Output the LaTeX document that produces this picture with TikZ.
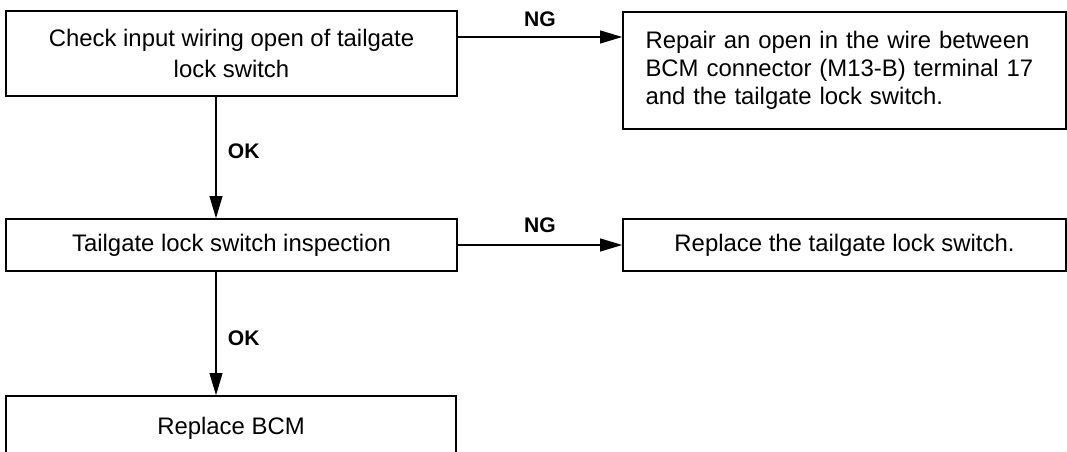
\documentclass[tikz,border=0pt]{standalone}
\usepackage{fontspec}
\setmainfont{Liberation Sans}
\usetikzlibrary{arrows.meta,positioning}

\begin{document}
\begin{tikzpicture}[
    stepbox/.style={rectangle, draw=black, line width=1.1pt, fill=white, inner sep=0pt, align=center, font=\fontsize{17}{20}\selectfont},
    leftbox/.style={stepbox, align=left, text width=9.95cm},
    result/.style={inner sep=0pt, font=\fontsize{15}{17}\selectfont\bfseries},
    arrow/.style={line width=1.1pt, -{Triangle[length=0.55cm,width=0.32cm]}}
]
\useasboundingbox (0,0) rectangle (26.675,-11.3);

% Inspection steps
\node[stepbox, minimum width=11.275cm, minimum height=2.125cm] (check) at (5.7875,-1.3375) {Check input wiring open of tailgate\\[2pt]lock switch};
\node[stepbox, minimum width=11.275cm, minimum height=1.3cm] (inspect) at (5.7875,-6.125) {Tailgate lock switch inspection};
\node[stepbox, minimum width=11.25cm, minimum height=1.6cm] (replbcm) at (5.775,-10.7) {Replace BCM};

% Repairs
\node[leftbox, minimum width=11.075cm, minimum height=2.925cm] (repair) at (21.1125,-1.7625) {Repair an open in the wire between\\BCM connector (M13-B) terminal 17\\and the tailgate lock switch.};
\node[stepbox, minimum width=11.075cm, minimum height=1.3cm] (replsw) at (21.1125,-6.125) {Replace the tailgate lock switch.};

% NG branches
\draw[arrow] ([yshift=0.4125cm]check.east) -- ([yshift=0.4125cm]check.east -| repair.west) node[result, midway, above=0.25cm] {NG};
\draw[arrow] (inspect.east) -- (replsw.west) node[result, midway, above=0.3cm] {NG};

% OK branches
\draw[arrow] ([xshift=-0.3875cm]check.south) -- ([xshift=-0.3875cm]check.south |- inspect.north) node[result, midway, right=0.28cm, yshift=0.16cm] {OK};
\draw[arrow] ([xshift=-0.3875cm]inspect.south) -- ([xshift=-0.3875cm]inspect.south |- replbcm.north) node[result, midway, right=0.28cm, yshift=-0.11cm] {OK};

\end{tikzpicture}
\end{document}
